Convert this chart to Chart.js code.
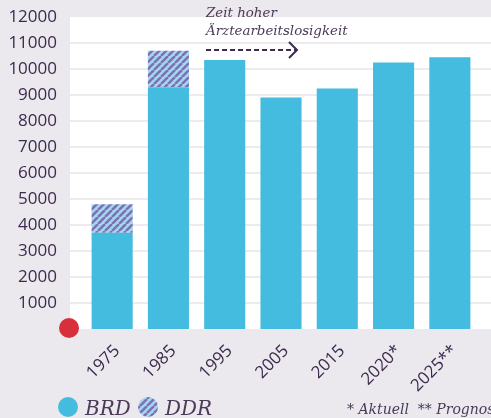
<!DOCTYPE html>
<html>
<head>
<meta charset="utf-8">
<script src="https://cdn.jsdelivr.net/npm/chart.js@4.4.0/dist/chart.umd.min.js"></script>
<style>
    html, body { margin: 0; padding: 0; background: #ebe8ee; overflow: hidden; }
</style>
</head>
<body>
<canvas id="chart" width="491" height="418"></canvas>
<script>
// Data
const years = ['1975', '1985', '1995', '2005', '2015', '2020*', '2025**'];
const brd = [3700, 9300, 10350, 8900, 9250, 10250, 10450];
const ddr = [1100, 1400, 0, 0, 0, 0, 0];
const yMax = 12000;
const yStep = 1000;

const INK = '#3d2b4d';
const CYAN = '#43bcdf';
const SANS = '"Open Sans"';
const SERIF = '"DejaVu Serif", serif';

function makeHatch() {
    const s = 7;
    const tile = document.createElement('canvas');
    tile.width = s; tile.height = s;
    const g = tile.getContext('2d');
    g.fillStyle = '#a2d7ec';
    g.fillRect(0, 0, s, s);
    g.strokeStyle = '#7e6fb6';
    g.lineWidth = 2.5;
    for (const o of [-s, 0, s]) {
        g.beginPath();
        g.moveTo(o, s);
        g.lineTo(o + s, 0);
        g.stroke();
    }
    return g.createPattern(tile, 'repeat');
}
const hatch = makeHatch();

// white plot backdrop + grid, then the extras on top
const decor = {
    id: 'decor',
    beforeDraw(chart) {
        const { ctx, scales: { y } } = chart;
        const top = y.getPixelForValue(yMax);
        const bottom = y.getPixelForValue(0);
        ctx.save();
        ctx.fillStyle = '#ffffff';
        ctx.fillRect(70, top, chart.width - 70, bottom - top);
        ctx.strokeStyle = '#e7e4eb';
        ctx.lineWidth = 1.5;
        y.ticks.forEach(t => {
            if (t.value <= 0 || t.value >= yMax) return;
            const py = y.getPixelForValue(t.value);
            ctx.beginPath();
            ctx.moveTo(70, py);
            ctx.lineTo(chart.width, py);
            ctx.stroke();
        });
        ctx.restore();
    },
    afterDraw(chart) {
        const { ctx, scales: { y } } = chart;
        ctx.save();

        // red origin dot
        ctx.fillStyle = '#d8303a';
        ctx.beginPath();
        ctx.arc(69, y.getPixelForValue(0) - 1, 10, 0, Math.PI * 2);
        ctx.fill();

        // annotation
        ctx.fillStyle = '#4a3a57';
        ctx.font = 'italic 13.4px ' + SERIF;
        ctx.textBaseline = 'alphabetic';
        ctx.fillText('Zeit hoher', 206, 17);
        ctx.fillText('Ärztearbeitslosigkeit', 206, 35);

        ctx.strokeStyle = INK;
        ctx.lineWidth = 2;
        ctx.setLineDash([5, 3]);
        ctx.beginPath();
        ctx.moveTo(206, 50);
        ctx.lineTo(296, 50);
        ctx.stroke();
        ctx.setLineDash([]);
        ctx.beginPath();
        ctx.moveTo(289, 42);
        ctx.lineTo(297, 50);
        ctx.lineTo(289, 58);
        ctx.stroke();

        // legend
        ctx.fillStyle = CYAN;
        ctx.beginPath();
        ctx.arc(68, 407, 10, 0, Math.PI * 2);
        ctx.fill();
        ctx.fillStyle = hatch;
        ctx.beginPath();
        ctx.arc(148, 407, 10, 0, Math.PI * 2);
        ctx.fill();

        ctx.fillStyle = '#4a3a57';
        ctx.font = 'italic 20px ' + SERIF;
        ctx.fillText('BRD', 85, 415);
        ctx.fillText('DDR', 165, 415);

        ctx.font = 'italic 14px ' + SERIF;
        ctx.fillText('* Aktuell  ** Prognose', 347, 414);
        ctx.restore();
    }
};

new Chart(document.getElementById('chart'), {
    type: 'bar',
    data: {
        labels: years,
        datasets: [
            {
                label: 'BRD',
                data: brd,
                backgroundColor: CYAN,
                barPercentage: 0.73,
                categoryPercentage: 1
            },
            {
                label: 'DDR',
                data: ddr,
                backgroundColor: hatch,
                barPercentage: 0.73,
                categoryPercentage: 1
            }
        ]
    },
    options: {
        responsive: false,
        devicePixelRatio: 1,
        animation: false,
        layout: { padding: { top: 17, right: 13, left: 0, bottom: 0 } },
        plugins: {
            legend: { display: false },
            tooltip: { enabled: false }
        },
        scales: {
            x: {
                stacked: true,
                grid: { display: false },
                border: { display: false },
                ticks: {
                    color: INK,
                    font: { family: SANS, size: 17 },
                    maxRotation: 45,
                    minRotation: 45,
                    padding: 4,
                    labelOffset: 5
                },
                afterFit(s) { s.height = 89; }
            },
            y: {
                stacked: true,
                min: 0,
                max: yMax,
                grid: { display: false },
                border: { display: false },
                ticks: {
                    stepSize: yStep,
                    color: INK,
                    font: { family: SANS, size: 17 },
                    padding: 19,
                    callback: v => v === 0 ? '' : String(v)
                },
                afterFit(s) {
                    s.width = 84;
                    s.paddingTop = 0;
                    s.paddingBottom = 0;
                }
            }
        }
    },
    plugins: [decor]
});
</script>
</body>
</html>
